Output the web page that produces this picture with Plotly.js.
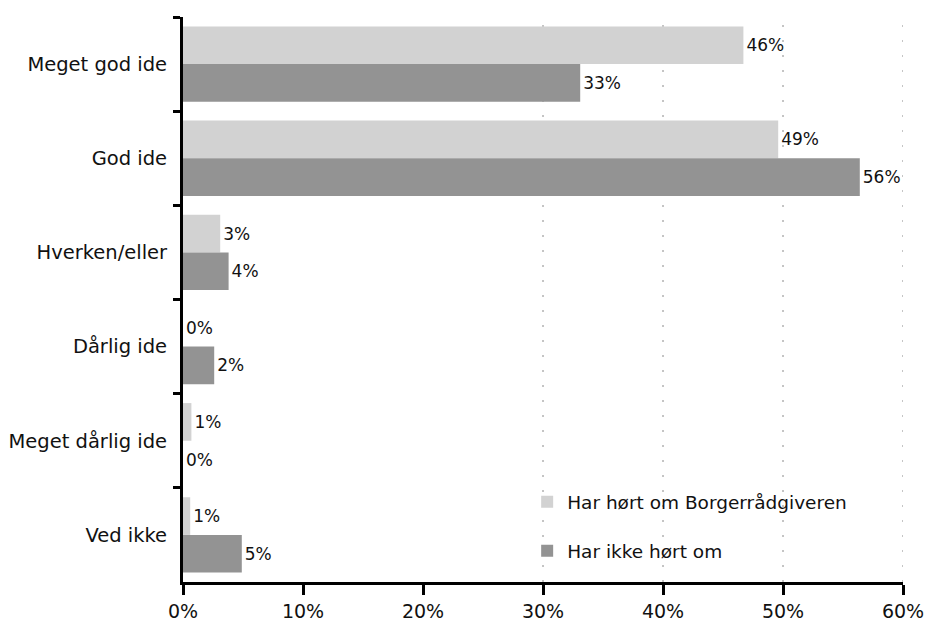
<!DOCTYPE html>
<html>
<head>
<meta charset="utf-8">
<script src="https://cdn.plot.ly/plotly-3.0.1.min.js"></script>
<style>html,body{margin:0;padding:0;background:#fff;}#chart{width:925px;height:626px;}</style>
</head>
<body>
<div id="chart"></div>
<script>
const categories = ["Meget god ide", "God ide", "Hverken/eller", "Dårlig ide", "Meget dårlig ide", "Ved ikke"];
const seriesNames = ["Har hørt om Borgerrådgiveren", "Har ikke hørt om"];
const heardValues = [46.7, 49.6, 3.1, 0, 0.7, 0.6];
const heardLabels = ["46%", "49%", "3%", "0%", "1%", "1%"];
const notHeardValues = [33.1, 56.4, 3.8, 2.6, 0, 4.9];
const notHeardLabels = ["33%", "56%", "4%", "2%", "0%", "5%"];
const xTickValues = [0, 10, 20, 30, 40, 50, 60];
const xTickLabels = ["0%", "10%", "20%", "30%", "40%", "50%", "60%"];
const gridTickValues = [30, 40, 50, 60];

const FONT = "DejaVu Sans, Verdana, sans-serif";

const traces = [
  {
    type: "bar", orientation: "h", name: seriesNames[0], legendgroup: "a",
    y: categories, x: heardValues, text: heardLabels,
    textposition: "outside", cliponaxis: false,
    textfont: {family: FONT, size: 17, color: "#111"},
    marker: {color: "#d2d2d2", line: {width: 0}},
    hoverinfo: "skip"
  },
  {
    type: "bar", orientation: "h", name: seriesNames[1], legendgroup: "b",
    y: categories, x: notHeardValues, text: notHeardLabels,
    textposition: "outside", cliponaxis: false,
    textfont: {family: FONT, size: 17, color: "#111"},
    marker: {color: "#939393", line: {width: 0}},
    hoverinfo: "skip"
  }
];

const gridShapes = gridTickValues.map(v => ({
  type: "line", xref: "x", yref: "paper", x0: v, x1: v, y0: 0, y1: 1,
  layer: "below", line: {color: "#8a8a8a", width: 1, dash: "2px,13px"}
}));

const layout = {
  width: 925, height: 626,
  margin: {l: 183, r: 22, t: 17, b: 44},
  paper_bgcolor: "#fff", plot_bgcolor: "#fff",
  font: {family: FONT, size: 19, color: "#111"},
  barmode: "group", bargap: 0.2, bargroupgap: 0,
  showlegend: true,
  shapes: gridShapes,
  legend: {
    x: 0.478, y: 0.175, xanchor: "left", yanchor: "top",
    bgcolor: "rgba(0,0,0,0)", borderwidth: 0,
    font: {family: FONT, size: 18.5, color: "#111"},
    traceorder: "grouped", tracegroupgap: 22,
    itemwidth: 30
  },
  xaxis: {
    range: [0, 60], tickvals: xTickValues, ticktext: xTickLabels,
    showline: true, linecolor: "#000", linewidth: 3,
    ticks: "outside", ticklen: 10, tickwidth: 3, tickcolor: "#000",
    showgrid: false, zeroline: false, fixedrange: true,
    tickfont: {family: FONT, size: 19, color: "#111"}
  },
  yaxis: {
    type: "category", categoryorder: "array", categoryarray: categories,
    autorange: "reversed",
    showline: true, linecolor: "#000", linewidth: 3,
    ticks: "outside", tickson: "boundaries", ticklen: 7, tickwidth: 3, tickcolor: "#000",
    showgrid: false, zeroline: false, fixedrange: true,
    ticklabelstandoff: 9,
    tickfont: {family: FONT, size: 19.5, color: "#111"}
  }
};

Plotly.newPlot("chart", traces, layout, {displayModeBar: false, staticPlot: true});
</script>
</body>
</html>
